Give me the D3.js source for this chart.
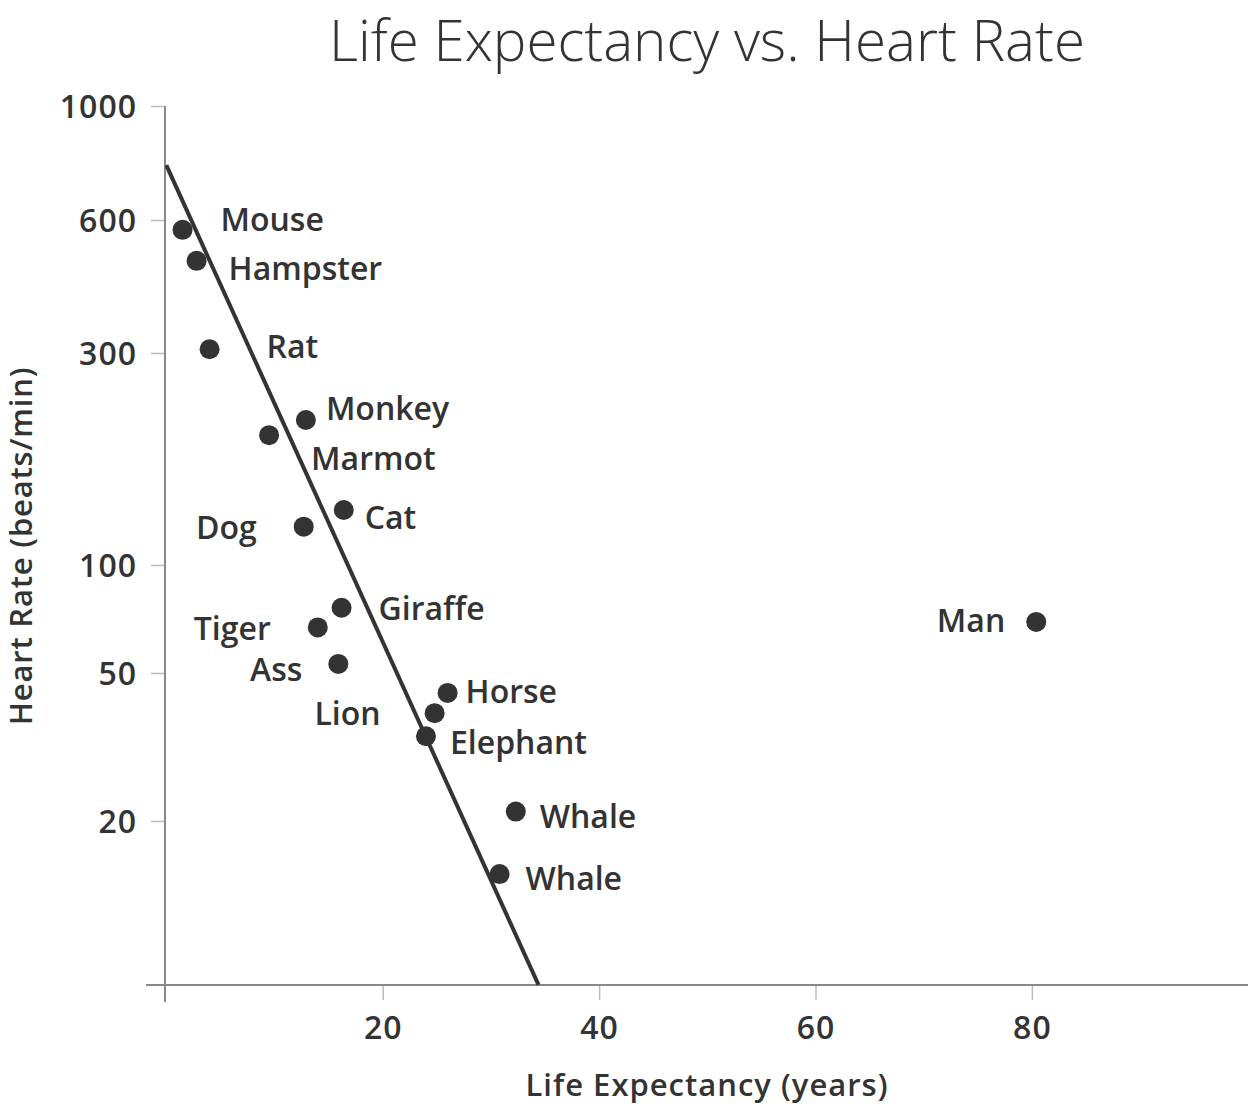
<!DOCTYPE html>
<html><head><meta charset="utf-8">
<script src="https://cdn.jsdelivr.net/npm/d3@7"></script>
<style>body{margin:0;background:#fff}svg{display:block}</style>
</head><body>
<svg id="chart" width="1248" height="1109"></svg>
<script>
// ---- data ----
const animals = ["Mouse","Hampster","Rat","Monkey","Marmot","Cat","Dog","Giraffe","Tiger","Ass","Horse","Lion","Elephant","Whale","Whale","Man"];
const lifeExpectancy = [1.5, 2.8, 4.0, 12.9, 9.5, 16.4, 12.7, 16.2, 14.0, 15.9, 26.0, 24.8, 24.0, 32.3, 30.8, 80.4];
const heartRate = [570, 485, 306, 212, 196, 133, 122, 76, 67, 53, 44.2, 39, 33.8, 21.2, 14.4, 69.4];
const xTicks = [20, 40, 60, 80];
const yTicks = [1000, 600, 300, 100, 50, 20];
const yMin = 7.25;
const trendX = [0, 34.4];
const trendY = [767, 7.25];

// ---- label layout (pixel offsets from point, anchor) ----
const labelDx = [38, 32, 57, 20, 42, 21, -47, 37, -47, -36, 18, -54, 24, 24, 26, -31];
const labelDy = [-10, 8, -2.5, -11.5, 23.5, 8, 0.5, 1, 1.5, 6, -1, 0, 6, 4.5, 4, -1.5];
const labelAnchor = ["start","start","start","start","start","start","end","start","end","end","start","end","start","start","start","end"];

const FONT = "'Open Sans', 'Noto Sans', sans-serif";
const INK = "#333";
const svg = d3.select("#chart");

const x = d3.scaleLinear().domain([0, 100]).range([166.3, 1248.3]);
const y = d3.scaleLog().domain(yTicks).range([106, 220, 353, 565, 673, 821]);
const yBottom = y(yMin);
const yAxisX = 165;

// title
svg.append("text").attr("x", 707).attr("y", 61).attr("text-anchor", "middle")
  .attr("font-family", FONT).attr("font-weight", 300).attr("font-size", 56.5)
  .attr("fill", INK).text("Life Expectancy vs. Heart Rate");

// y axis
const gy = svg.append("g").attr("transform", `translate(${yAxisX},0)`)
  .call(d3.axisLeft(y).tickValues(yTicks).tickFormat(d3.format("d")).tickSize(14).tickPadding(14).tickSizeOuter(0));
gy.select(".domain").remove();
gy.selectAll(".tick line").attr("stroke", "#bbb").attr("stroke-width", 1.5);
gy.selectAll(".tick text").attr("font-family", FONT).attr("font-weight", 600).attr("font-size", 32)
  .attr("letter-spacing", 1).attr("fill", INK).attr("dy", "0.36em");
svg.append("line").attr("x1", yAxisX).attr("x2", yAxisX).attr("y1", y(1000)).attr("y2", yBottom + 17)
  .attr("stroke", "#888").attr("stroke-width", 2);

// x axis
const gx = svg.append("g").attr("transform", `translate(0,${yBottom})`)
  .call(d3.axisBottom(x).tickValues(xTicks).tickSize(15).tickPadding(16).tickSizeOuter(0));
gx.select(".domain").remove();
gx.selectAll(".tick line").attr("stroke", "#bbb").attr("stroke-width", 1.5);
gx.selectAll(".tick text").attr("font-family", FONT).attr("font-weight", 600).attr("font-size", 32)
  .attr("letter-spacing", 1).attr("fill", INK);
svg.append("line").attr("x1", 146).attr("x2", 1248).attr("y1", yBottom).attr("y2", yBottom)
  .attr("stroke", "#888").attr("stroke-width", 2);

// axis titles
svg.append("text").attr("x", 707).attr("y", 1096).attr("text-anchor", "middle")
  .attr("font-family", FONT).attr("font-weight", 600).attr("font-size", 31).attr("letter-spacing", 1)
  .attr("fill", INK).text("Life Expectancy (years)");
svg.append("text").attr("transform", "translate(32,546) rotate(-90)").attr("text-anchor", "middle")
  .attr("font-family", FONT).attr("font-weight", 600).attr("font-size", 31).attr("letter-spacing", 0.8)
  .attr("fill", INK).text("Heart Rate (beats/min)");

// trend line
const trend = trendX.map((v, i) => [v, trendY[i]]);
svg.append("path").datum(trend)
  .attr("d", d3.line().x(d => x(d[0])).y(d => y(d[1])))
  .attr("fill", "none").attr("stroke", INK).attr("stroke-width", 4);

// points
const pts = animals.map((name, i) => ({name, le: lifeExpectancy[i], hr: heartRate[i], i}));
svg.append("g").selectAll("circle").data(pts).join("circle")
  .attr("cx", d => x(d.le)).attr("cy", d => y(d.hr)).attr("r", 10).attr("fill", INK);

// labels
svg.append("g").selectAll("text").data(pts).join("text")
  .attr("x", d => x(d.le) + labelDx[d.i])
  .attr("y", d => y(d.hr) + labelDy[d.i] + 11.5)
  .attr("text-anchor", d => labelAnchor[d.i])
  .attr("font-family", FONT).attr("font-weight", 600).attr("font-size", 32).attr("fill", INK)
  .text(d => d.name);
</script>
</body></html>
